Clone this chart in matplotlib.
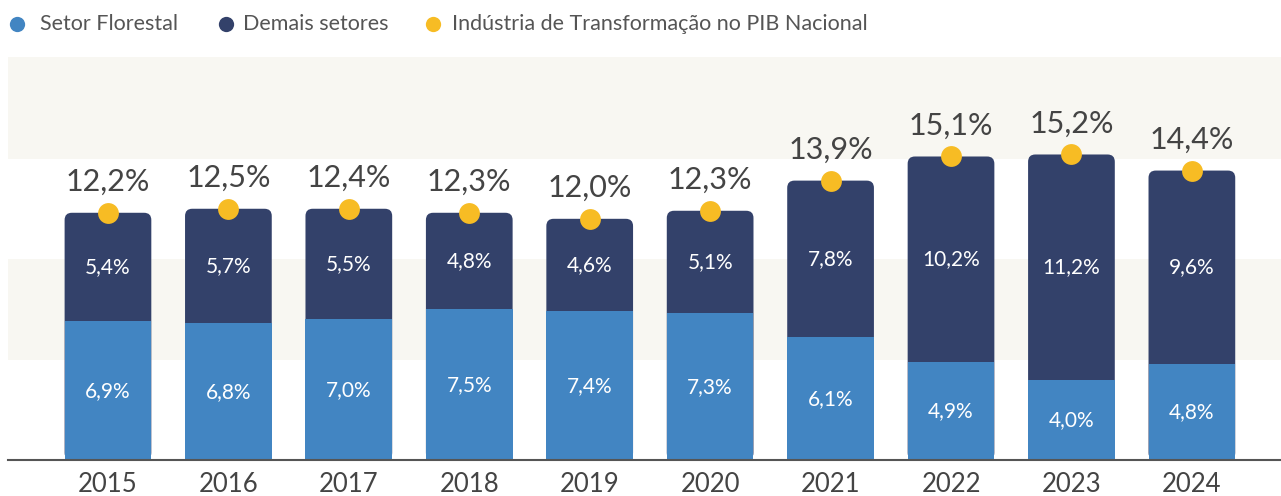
import matplotlib.pyplot as plt
from matplotlib.patches import FancyBboxPatch

anos = ['2015', '2016', '2017', '2018', '2019', '2020', '2021', '2022', '2023', '2024']
florestal = [6.9, 6.8, 7.0, 7.5, 7.4, 7.3, 6.1, 4.9, 4.0, 4.8]
demais = [5.4, 5.7, 5.5, 4.8, 4.6, 5.1, 7.8, 10.2, 11.2, 9.6]
total = [12.2, 12.5, 12.4, 12.3, 12.0, 12.3, 13.9, 15.1, 15.2, 14.4]
legendas = ['Setor Florestal', 'Demais setores', 'Indústria de Transformação no PIB Nacional']

azul = '#4285c2'
marinho = '#33416a'
amarelo = '#f7bc24'
cinza = '#444444'

plt.rcParams['font.family'] = ['Lato', 'DejaVu Sans']

fig = plt.figure(figsize=(12.81, 4.96), dpi=100)
ax = fig.add_axes([8 / 1281, 36 / 496, 1 - 8 / 1281, 403 / 496])

ax.set_xlim(-0.83, 9.74)
ax.set_ylim(0, 20.05)

# faixas de fundo
ax.axhspan(5, 10, color='#f8f7f2', zorder=0, lw=0)
ax.axhspan(15, 20.05, color='#f8f7f2', zorder=0, lw=0)

w = 0.72
asp = (1 / 20.1) / (1 / 120.4)
for i in range(len(anos)):
    topo = florestal[i] + demais[i]
    p = FancyBboxPatch((i - w / 2, 0), w, topo,
                       boxstyle='round,pad=0,rounding_size=0.06',
                       mutation_aspect=asp, fc=marinho, ec='none', zorder=2)
    ax.add_patch(p)
ax.bar(range(len(anos)), florestal, width=w, color=azul, zorder=3)

for i in range(len(anos)):
    topo = florestal[i] + demais[i]
    ax.text(i, florestal[i] / 2, f'{florestal[i]:.1f}'.replace('.', ',') + '%',
            ha='center', va='center', color='white', fontsize=15, zorder=5)
    ax.text(i, florestal[i] + demais[i] / 2, f'{demais[i]:.1f}'.replace('.', ',') + '%',
            ha='center', va='center', color='white', fontsize=15, zorder=5)
    ax.plot(i, topo, 'o', ms=15, color=amarelo, mec='none', zorder=6)
    ax.annotate(f'{total[i]:.1f}'.replace('.', ',') + '%', (i, topo),
                xytext=(0, 22), textcoords='offset points',
                ha='center', va='center', fontsize=22, color=cinza)

ax.set_xticks(range(len(anos)))
ax.set_xticklabels(anos, fontsize=18.5, color=cinza)
ax.tick_params(axis='x', length=0, pad=9)
ax.set_yticks([])
for s in ['top', 'left', 'right']:
    ax.spines[s].set_visible(False)
ax.spines['bottom'].set_color('#555555')
ax.spines['bottom'].set_linewidth(1.5)
ax.spines['bottom'].set_zorder(7)

# legenda manual
for xm, xt, c, t in zip([17, 226, 433], [40, 243, 452], [azul, marinho, amarelo], legendas):
    fig.lines.append(plt.Line2D([xm / 1281], [1 - 24 / 496], marker='o', ms=11,
                                color=c, mec='none', transform=fig.transFigure))
    fig.text(xt / 1281, 1 - 24 / 496, t, ha='left', va='center',
             fontsize=15.5, color='#555555')

fig.savefig('out.png', dpi=100)
